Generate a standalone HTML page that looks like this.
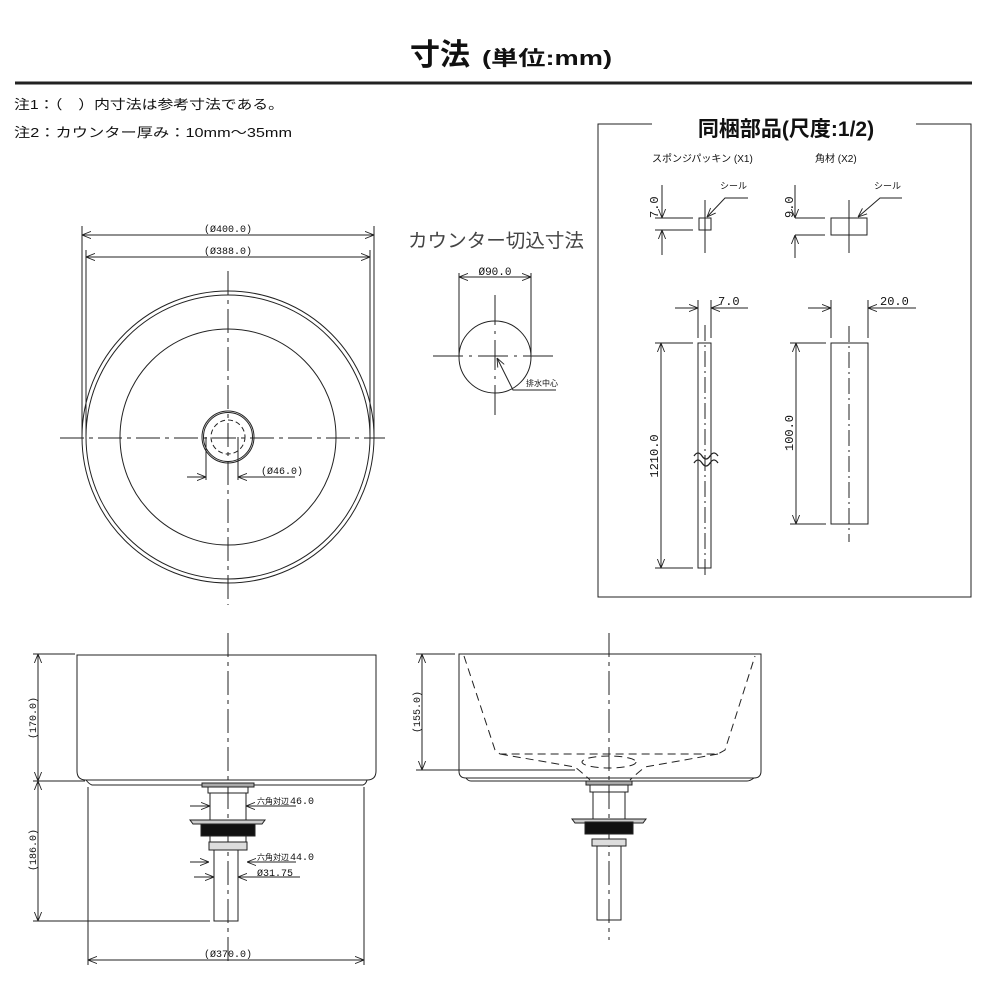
<!DOCTYPE html>
<html><head><meta charset="utf-8"><style>
html,body{margin:0;padding:0;background:#fff;}
svg{display:block;}
text{font-family:"Liberation Sans","Noto Sans CJK JP",sans-serif;fill:#111;}
.m{font-family:"Liberation Mono","Noto Sans CJK JP",monospace;}
</style></head><body>
<svg width="1000" height="1000" viewBox="0 0 1000 1000" xmlns="http://www.w3.org/2000/svg">
<defs>
<marker id="a" viewBox="0 0 10 10" refX="10" refY="5" markerWidth="9" markerHeight="9" orient="auto-start-reverse" markerUnits="userSpaceOnUse"><path d="M0,1 L10,5 L0,9" fill="none" stroke="#222" stroke-width="1"/></marker>
</defs>
<g stroke="#222" stroke-width="1" fill="none">
<line x1="15" y1="83" x2="972" y2="83" stroke-width="3"/>
</g>
<text x="410" y="65" font-size="30" font-weight="bold">寸法</text>
<text x="482" y="65" font-size="20" font-weight="bold" textLength="130" lengthAdjust="spacingAndGlyphs">(単位:mm)</text>
<text x="14" y="109" font-size="13" textLength="270" lengthAdjust="spacingAndGlyphs">注1：（　）内寸法は参考寸法である。</text>
<text x="14" y="137" font-size="13" textLength="278" lengthAdjust="spacingAndGlyphs">注2：カウンター厚み：10mm～35mm</text>

<g stroke="#222" stroke-width="1" fill="none">
<path d="M652,124 H598 V597 H971 V124 H916"/>
</g>
<text x="786" y="136" font-size="21" font-weight="bold" text-anchor="middle">同梱部品(尺度:1/2)</text>
<text x="652" y="162" font-size="10">スポンジパッキン (X1)</text>
<text x="815" y="162" font-size="10">角材 (X2)</text>
<g stroke="#222" stroke-width="1" fill="none">
<rect x="699" y="218" width="12" height="12"/>
<line x1="705" y1="200" x2="705" y2="253"/>
<line x1="655" y1="218" x2="693" y2="218"/><line x1="655" y1="230" x2="693" y2="230"/>
<line x1="662" y1="185" x2="662" y2="218" marker-end="url(#a)"/>
<line x1="662" y1="255" x2="662" y2="230" marker-end="url(#a)"/>
<path d="M748,198 H725 L707,217" marker-end="url(#a)"/>
<rect x="831" y="218" width="36" height="17"/>
<line x1="849" y1="200" x2="849" y2="253"/>
<line x1="795" y1="218" x2="825" y2="218"/><line x1="795" y1="235" x2="825" y2="235"/>
<line x1="795" y1="185" x2="795" y2="218" marker-end="url(#a)"/>
<line x1="795" y1="258" x2="795" y2="235" marker-end="url(#a)"/>
<path d="M902,198 H880 L858,217" marker-end="url(#a)"/>
<rect x="698" y="343" width="13" height="225"/>
<line x1="705" y1="325" x2="705" y2="575" stroke-dasharray="16,4,2,4"/>
<line x1="698" y1="300" x2="698" y2="338"/><line x1="711" y1="300" x2="711" y2="338"/>
<line x1="675" y1="308" x2="698" y2="308" marker-end="url(#a)"/>
<path d="M748,308 H711" marker-end="url(#a)"/>
<line x1="655" y1="343" x2="693" y2="343"/><line x1="655" y1="568" x2="693" y2="568"/>
<line x1="661" y1="343" x2="661" y2="568" marker-start="url(#a)" marker-end="url(#a)"/>
<path d="M694,456 q4,-6 8,0 t8,0 t8,0 M694,463 q4,-6 8,0 t8,0 t8,0" stroke-width="1.3"/>
<rect x="831" y="343" width="37" height="181"/>
<line x1="849" y1="326" x2="849" y2="542" stroke-dasharray="16,4,2,4"/>
<line x1="831" y1="300" x2="831" y2="338"/><line x1="868" y1="300" x2="868" y2="338"/>
<line x1="808" y1="308" x2="831" y2="308" marker-end="url(#a)"/>
<path d="M916,308 H868" marker-end="url(#a)"/>
<line x1="790" y1="343" x2="826" y2="343"/><line x1="790" y1="524" x2="826" y2="524"/>
<line x1="796" y1="343" x2="796" y2="524" marker-start="url(#a)" marker-end="url(#a)"/>
</g>
<text x="720" y="189" font-size="9">シール</text>
<text x="874" y="189" font-size="9">シール</text>
<text class="m" font-size="12" transform="translate(658,218) rotate(-90)">7.0</text>
<text class="m" font-size="12" transform="translate(793,218) rotate(-90)">9.0</text>
<text class="m" x="718" y="305" font-size="12">7.0</text>
<text class="m" x="880" y="305" font-size="12">20.0</text>
<text class="m" font-size="12" transform="translate(658,456) rotate(-90)" text-anchor="middle">1210.0</text>
<text class="m" font-size="12" transform="translate(793,433) rotate(-90)" text-anchor="middle">100.0</text>

<g stroke="#222" stroke-width="1" fill="none">
<circle cx="228" cy="437" r="146"/>
<circle cx="228" cy="437" r="142"/>
<circle cx="228" cy="437" r="108"/>
<circle cx="228" cy="437" r="26"/>
<circle cx="228" cy="437" r="24.5"/>
<circle cx="228" cy="437" r="17" stroke-dasharray="5,3"/>
<line x1="60" y1="438" x2="385" y2="438" stroke-dasharray="24,5,4,5"/>
<line x1="228" y1="271" x2="228" y2="605" stroke-dasharray="24,5,4,5"/>
<line x1="82" y1="226" x2="82" y2="437"/><line x1="374" y1="226" x2="374" y2="437"/>
<line x1="86" y1="250" x2="86" y2="437"/><line x1="370" y1="250" x2="370" y2="437"/>
<line x1="82" y1="235" x2="374" y2="235" marker-start="url(#a)" marker-end="url(#a)"/>
<line x1="86" y1="257" x2="370" y2="257" marker-start="url(#a)" marker-end="url(#a)"/>
<line x1="206" y1="437" x2="206" y2="480"/><line x1="238" y1="437" x2="238" y2="480"/>
<line x1="187" y1="477" x2="206" y2="477" marker-end="url(#a)"/>
<path d="M295,477 H238" marker-end="url(#a)"/>
<circle cx="495" cy="357" r="36"/>
<line x1="433" y1="356" x2="555" y2="356" stroke-dasharray="30,6,3,6"/>
<line x1="495" y1="295" x2="495" y2="418" stroke-dasharray="30,6,3,6"/>
<line x1="459" y1="273" x2="459" y2="355"/><line x1="531" y1="273" x2="531" y2="355"/>
<line x1="459" y1="277" x2="531" y2="277" marker-start="url(#a)" marker-end="url(#a)"/>
<path d="M556,390 H513 L497,358" marker-end="url(#a)"/>
</g>
<text class="m" x="228" y="232" font-size="10" text-anchor="middle">(Ø400.0)</text>
<text class="m" x="228" y="254" font-size="10" text-anchor="middle">(Ø388.0)</text>
<text class="m" x="261" y="474" font-size="10">(Ø46.0)</text>
<text class="m" x="495" y="275" font-size="11" text-anchor="middle">Ø90.0</text>
<text x="526" y="386" font-size="8">排水中心</text>
<text x="408" y="247" font-size="19" style="fill:#444" textLength="176" lengthAdjust="spacingAndGlyphs">カウンター切込寸法</text>

<g stroke="#222" stroke-width="1" fill="none">
<path d="M77,655 H376 V771 Q376,780 367,780 H86 Q77,780 77,771 Z"/>
<path d="M86,780 Q89,784 92,785 H363 Q366,784 367,780"/>
<line x1="228" y1="633" x2="228" y2="965" stroke-dasharray="24,5,4,5"/>
<line x1="33" y1="654" x2="75" y2="654"/>
<line x1="33" y1="781" x2="85" y2="781"/>
<line x1="33" y1="921" x2="210" y2="921"/>
<line x1="38" y1="654" x2="38" y2="781" marker-start="url(#a)" marker-end="url(#a)"/>
<line x1="38" y1="781" x2="38" y2="921" marker-start="url(#a)" marker-end="url(#a)"/>
<line x1="88" y1="787" x2="88" y2="965"/><line x1="364" y1="787" x2="364" y2="965"/>
<line x1="88" y1="960" x2="364" y2="960" marker-start="url(#a)" marker-end="url(#a)"/>
<rect x="202" y="783" width="52" height="4" fill="#aaa"/>
<rect x="208" y="787" width="40" height="6"/>
<rect x="210" y="793" width="36" height="28"/>
<path d="M190,820 H265 L262,824 H193 Z" fill="#ccc"/>
<rect x="201" y="824" width="54" height="12" fill="#111"/>
<rect x="210" y="836" width="36" height="6"/>
<rect x="209" y="842" width="38" height="8" fill="#ddd"/>
<rect x="214" y="850" width="24" height="71"/>
<line x1="190" y1="806" x2="210" y2="806" marker-end="url(#a)"/>
<path d="M296,806 H246" marker-end="url(#a)"/>
<line x1="190" y1="862" x2="209" y2="862" marker-end="url(#a)"/>
<path d="M296,862 H247" marker-end="url(#a)"/>
<line x1="194" y1="877" x2="214" y2="877" marker-end="url(#a)"/>
<path d="M300,877 H238" marker-end="url(#a)"/>
</g>
<text class="m" font-size="10" transform="translate(36,718) rotate(-90)" text-anchor="middle">(170.0)</text>
<text class="m" font-size="10" transform="translate(36,850) rotate(-90)" text-anchor="middle">(186.0)</text>
<text class="m" x="228" y="957" font-size="10" text-anchor="middle">(Ø370.0)</text>
<text x="257" y="804" font-size="8">六角対辺</text><text class="m" x="290" y="804" font-size="10">46.0</text>
<text x="257" y="860" font-size="8">六角対辺</text><text class="m" x="290" y="860" font-size="10">44.0</text>
<text class="m" x="257" y="876" font-size="10">Ø31.75</text>

<g stroke="#222" stroke-width="1" fill="none">
<path d="M459,654 H761 V771 Q761,778 754,778 H466 Q459,778 459,771 Z"/>
<path d="M466,778 Q468,781 471,781 H747 Q750,781 754,778"/>
<line x1="609" y1="633" x2="609" y2="940" stroke-dasharray="24,5,4,5"/>
<path d="M464,656 L495,750 L500,754 H718 L725,750 L755,656" stroke-dasharray="8,5"/>
<path d="M500,754 L575,767 Q585,775 590,780 M718,754 L645,767 Q635,775 630,780" stroke-dasharray="8,5"/>
<ellipse cx="609" cy="762" rx="27" ry="6" stroke-dasharray="8,5"/>
<line x1="416" y1="654" x2="455" y2="654"/>
<line x1="416" y1="770" x2="575" y2="770"/>
<line x1="422" y1="654" x2="422" y2="770" marker-start="url(#a)" marker-end="url(#a)"/>
<rect x="586" y="781" width="46" height="4" fill="#aaa"/>
<rect x="590" y="785" width="38" height="7"/>
<rect x="593" y="792" width="32" height="28"/>
<path d="M572,819 H646 L643,823 H575 Z" fill="#ccc"/>
<rect x="585" y="822" width="48" height="12" fill="#111"/>
<rect x="592" y="839" width="34" height="7" fill="#ddd"/>
<rect x="597" y="846" width="24" height="74"/>
</g>
<text class="m" font-size="10" transform="translate(420,712) rotate(-90)" text-anchor="middle">(155.0)</text>
</svg>
</body></html>
